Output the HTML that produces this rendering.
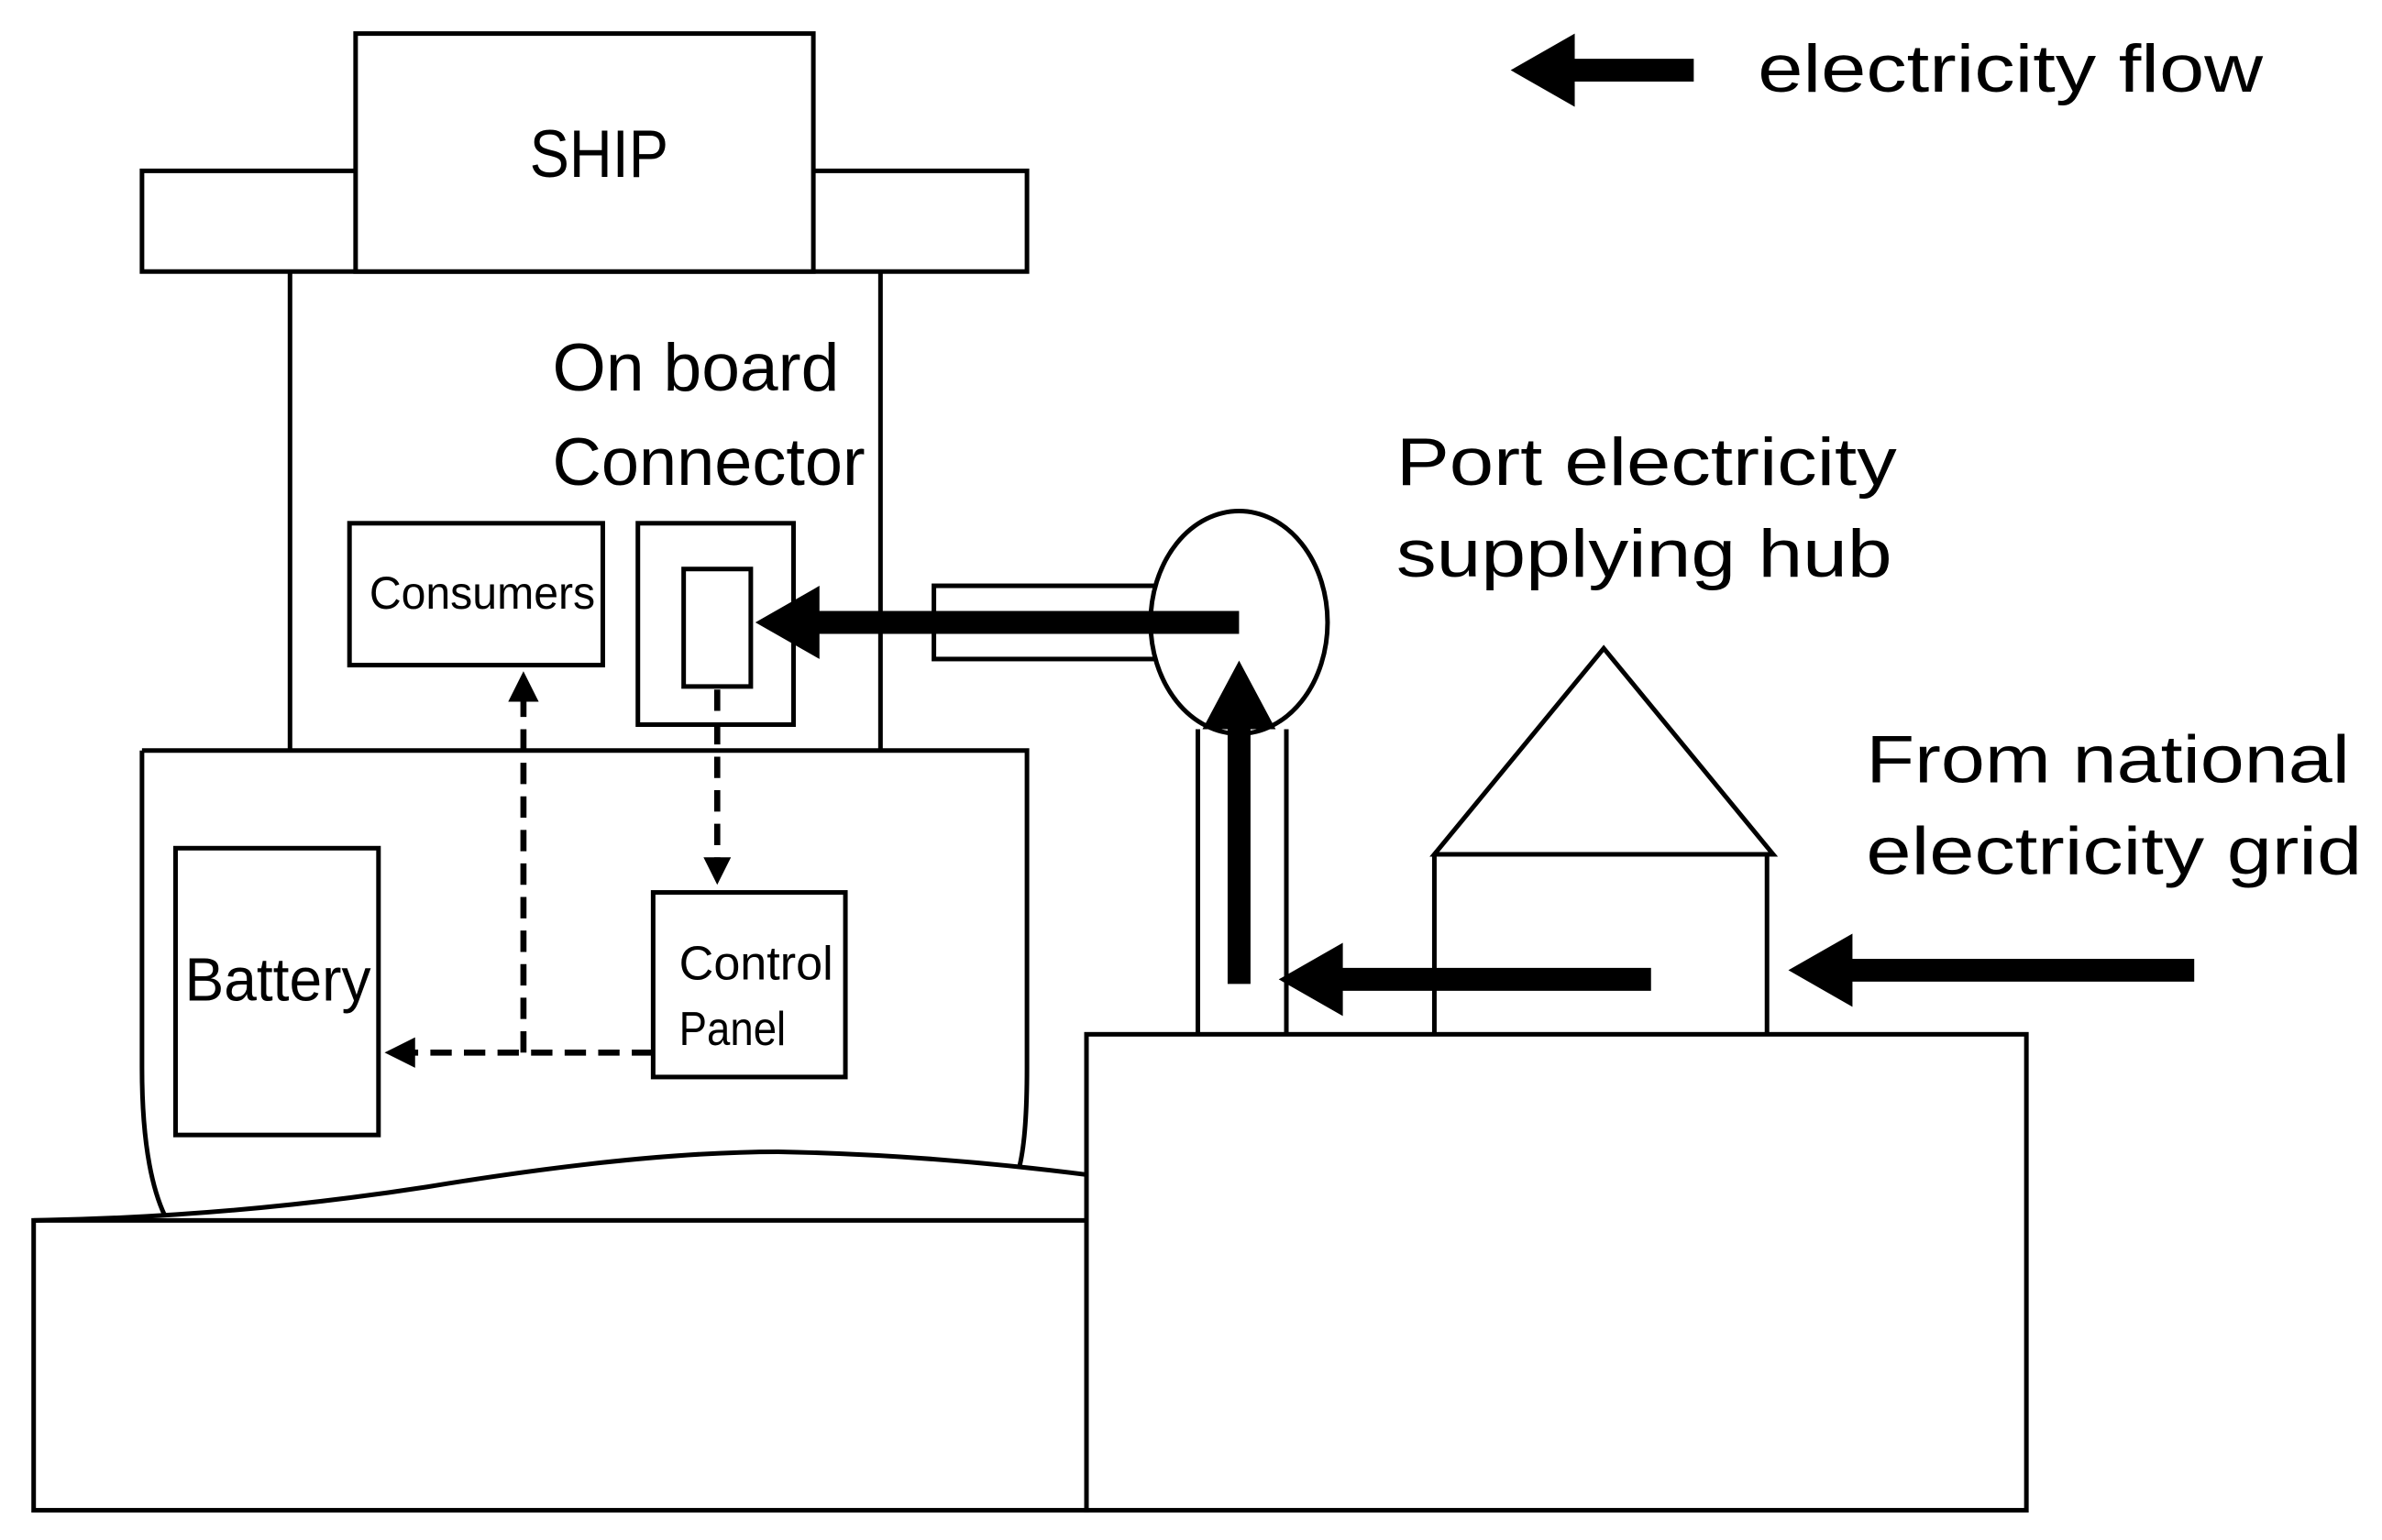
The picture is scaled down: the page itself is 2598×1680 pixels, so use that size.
<!DOCTYPE html>
<html><head><meta charset="utf-8"><style>
html,body{margin:0;padding:0;background:#fff;width:2598px;height:1680px;overflow:hidden}
svg{display:block}
text{font-family:"Liberation Sans","DejaVu Sans",sans-serif;fill:#000}
</style></head><body>
<svg width="2598" height="1680" viewBox="0 0 1561 1009.5" xmlns="http://www.w3.org/2000/svg">
<g fill="none" stroke="#000" stroke-width="3">
<rect x="93" y="112" width="580" height="66" fill="#fff"/>
<rect x="233" y="22" width="300" height="156" fill="#fff"/>
<line x1="190" y1="178" x2="190" y2="492"/>
<line x1="577" y1="178" x2="577" y2="492"/>
<path d="M93,492 H673 V700 Q673,745 668,765"/>
<path d="M93,492 V700 Q93,765 108,797"/>
<rect x="22" y="800" width="690" height="190"/>
<path d="M22,800 Q150,798 280,778 Q420,755 510,755 Q610,757 712,770"/>
<rect x="712" y="678" width="616" height="312"/>
<rect x="229" y="343" width="166" height="93"/>
<rect x="418" y="343" width="102" height="132"/>
<rect x="448" y="373" width="44" height="77"/>
<rect x="428" y="585" width="126" height="121"/>
<rect x="115" y="556" width="133" height="188"/>
<rect x="612" y="384" width="148" height="48"/>
<ellipse cx="812" cy="408" rx="58" ry="73" fill="#fff"/>
<path d="M785,478 V678 M843,478 V678"/>
<path d="M940,560 L1051,425 L1162,560 Z"/>
<path d="M940,560 V678 M1158,560 V678"/>
</g>
<g stroke="#000" stroke-width="4" stroke-dasharray="14,8" fill="none">
<line x1="470" y1="452" x2="470" y2="565"/>
<line x1="428" y1="690" x2="270" y2="690"/>
<line x1="343" y1="690" x2="343" y2="458"/>
</g>
<g fill="#000">
<path d="M470,580 L461,562 L479,562 Z"/>
<path d="M252,690 L272,680 L272,700 Z"/>
<path d="M343,440 L333,460 L353,460 Z"/>
</g>
<g stroke="#000" stroke-width="15" fill="none">
<line x1="812" y1="408" x2="535" y2="408"/>
<line x1="812" y1="645" x2="812" y2="475"/>
<line x1="1082" y1="642" x2="878" y2="642"/>
<line x1="1438" y1="636" x2="1212" y2="636"/>
<line x1="1110" y1="46" x2="1030" y2="46"/>
</g>
<g fill="#000">
<path d="M495,408 L537,384 L537,432 Z"/>
<path d="M812,433 L788,478 L836,478 Z"/>
<path d="M838,642 L880,618 L880,666 Z"/>
<path d="M1172,636 L1214,612 L1214,660 Z"/>
<path d="M990,46 L1032,22 L1032,70 Z"/>
</g>
<text x="347" y="116" font-size="44" textLength="91" lengthAdjust="spacingAndGlyphs">SHIP</text>
<text x="362" y="256" font-size="44" textLength="188" lengthAdjust="spacingAndGlyphs">On board</text>
<text x="362" y="318" font-size="44" textLength="205" lengthAdjust="spacingAndGlyphs">Connector</text>
<text x="242" y="399" font-size="30" textLength="148" lengthAdjust="spacingAndGlyphs">Consumers</text>
<text x="445" y="642" font-size="31" textLength="101" lengthAdjust="spacingAndGlyphs">Control</text>
<text x="445" y="685" font-size="31" textLength="70" lengthAdjust="spacingAndGlyphs">Panel</text>
<text x="121" y="656" font-size="40" textLength="122" lengthAdjust="spacingAndGlyphs">Battery</text>
<text x="915" y="318" font-size="44" textLength="328" lengthAdjust="spacingAndGlyphs">Port electricity</text>
<text x="915" y="378" font-size="44" textLength="325" lengthAdjust="spacingAndGlyphs">supplying hub</text>
<text x="1223" y="513" font-size="44" textLength="317" lengthAdjust="spacingAndGlyphs">From national</text>
<text x="1223" y="573" font-size="44" textLength="325" lengthAdjust="spacingAndGlyphs">electricity grid</text>
<text x="1152" y="60" font-size="44" textLength="331" lengthAdjust="spacingAndGlyphs">electricity flow</text>
</svg>
</body></html>
